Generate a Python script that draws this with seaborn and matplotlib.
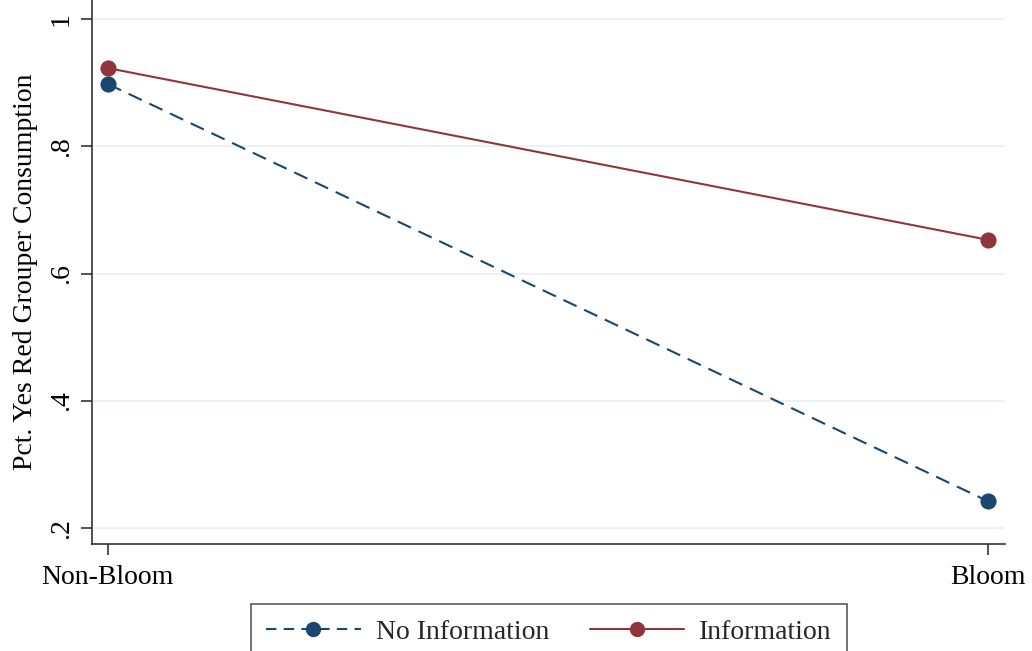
import matplotlib
matplotlib.use("Agg")
import matplotlib.pyplot as plt
import seaborn as sns
import pandas as pd
from matplotlib.lines import Line2D

periods = ["Non-Bloom", "Bloom"]
groups = ["No Information", "Information"]
no_info = [0.898, 0.242]
info = [0.923, 0.653]
yticks = [0.2, 0.4, 0.6, 0.8, 1.0]
ytick_labels = [".2", ".4", ".6", ".8", "1"]

df = pd.DataFrame({
    "period": periods * 2,
    "group": [groups[0]] * 2 + [groups[1]] * 2,
    "value": no_info + info,
})

sns.set_theme(style="white")
plt.rcParams["font.family"] = ["Liberation Serif", "DejaVu Serif"]

navy = "#1a476f"
maroon = "#90353b"
FS = 20

fig = plt.figure(figsize=(10.32, 6.51), dpi=100)
ax = fig.add_axes([92 / 1032, 1 - 544 / 651, (1005 - 92) / 1032, 544 / 651])

sns.pointplot(data=df, x="period", y="value", hue="group", order=periods,
              hue_order=groups, palette=[navy, maroon], markers=["o", "o"],
              linestyles=["--", "-"], errorbar=None, ax=ax, legend=False,
              markersize=10.5, linewidth=1.5)

for line in ax.lines:
    if line.get_linestyle() == "--":
        line.set_dashes((7, 4))

ax.set_xlim(-0.018, 1.019)
ax.set_ylim(0.175, 1.03)
ax.set_yticks(yticks)
ax.set_yticklabels(ytick_labels, rotation=90, va="center")
ax.yaxis.grid(True, color="#eaf2f3", linewidth=1.5)
ax.xaxis.grid(False)
ax.set_axisbelow(True)
for s in ["top", "right"]:
    ax.spines[s].set_visible(False)
for s in ["left", "bottom"]:
    ax.spines[s].set_color("#333333")
    ax.spines[s].set_linewidth(1.2)
ax.tick_params(axis="both", which="major", direction="out", length=8,
               width=1.2, color="#333333", labelsize=FS, labelcolor="black",
               left=True, bottom=True)
ax.tick_params(axis="x", pad=7)
ax.tick_params(axis="y", pad=5)
ax.set_xlabel("")
ax.set_ylabel("Pct. Yes Red Grouper Consumption", fontsize=FS, color="black",
              labelpad=8)

handles = [
    Line2D([], [], color=navy, linestyle=(0, (5, 3.5)), linewidth=1.5,
           marker="o", markersize=10),
    Line2D([], [], color=maroon, linestyle="-", linewidth=1.5,
           marker="o", markersize=10),
]
leg = fig.legend(handles, groups, loc="upper center",
                 bbox_to_anchor=(549 / 1032, 1 - 604 / 651), ncol=2,
                 fontsize=FS, frameon=True, fancybox=False, handlelength=3.4,
                 handletextpad=0.55, columnspacing=1.45, borderpad=0.55,
                 borderaxespad=0)
leg.get_frame().set_edgecolor("#333333")
leg.get_frame().set_linewidth(1.2)

fig.savefig("out.png", dpi=100)
